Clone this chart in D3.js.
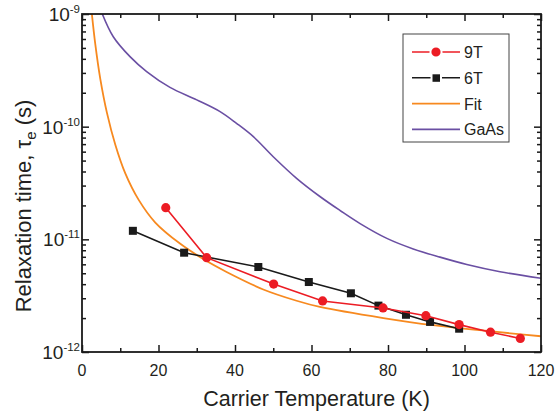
<!DOCTYPE html>
<html>
<head>
<meta charset="utf-8">
<script src="https://cdn.jsdelivr.net/npm/d3@7"></script>
<style>
  body { margin: 0; background: #fff; }
  #chart { width: 559px; height: 416px; }
</style>
</head>
<body>
<div id="chart"></div>
<script>
// RELAXATION TIME VS CARRIER TEMPERATURE

var temps9T = [21.9, 32.6, 50.1, 62.9, 78.7, 89.9, 98.6, 106.8, 114.6];
var tau9T = [1.91e-11, 6.87e-12, 4.01e-12, 2.84e-12, 2.46e-12, 2.10e-12, 1.75e-12, 1.50e-12, 1.32e-12];

var temps6T = [13.3, 26.7, 46.1, 59.3, 70.3, 77.5, 84.7, 91.0, 98.6];
var tau6T = [1.19e-11, 7.61e-12, 5.68e-12, 4.18e-12, 3.32e-12, 2.58e-12, 2.14e-12, 1.85e-12, 1.61e-12];

var fitT = [2.43, 3.48, 4.78, 6.54, 8.71, 11.32, 14.82, 19.16, 25.7, 31.7, 37.8, 47.4, 56.1, 62.2, 78.8, 91.8, 120];
var fitTau = [1.12e-9, 5.37e-10, 2.66e-10, 1.32e-10, 6.92e-11, 3.85e-11, 2.24e-11, 1.41e-11, 9.12e-12, 6.68e-12, 5.13e-12, 3.59e-12, 2.85e-12, 2.51e-12, 2.00e-12, 1.73e-12, 1.38e-12];

var gaasT = [5.31, 8.18, 12.55, 16.9, 23.0, 30.0, 36.1, 40.4, 44.8, 50.0, 56.1, 62.2, 67.5, 72.7, 79.7, 86.6, 93.6, 100.6, 109.3, 120];
var gaasTau = [1e-9, 6.28e-10, 4.18e-10, 3.08e-10, 2.23e-10, 1.73e-10, 1.36e-10, 1.07e-10, 8.15e-11, 5.41e-11, 3.48e-11, 2.40e-11, 1.80e-11, 1.38e-11, 1.02e-11, 8.22e-12, 6.95e-12, 5.98e-12, 5.16e-12, 4.51e-12];

var xTicks = [0, 20, 40, 60, 80, 100, 120];
var yTicks = [1e-12, 1e-11, 1e-10, 1e-9];
var yExponents = ["-12", "-11", "-10", "-9"];

var legendKeys = ["9T", "6T", "Fit", "GaAs"];

var red = "#ec1c24", black = "#1a1a1a", orange = "#f7891f", purple = "#6a4fa3";

function chart() {
    var margin = { top: 14, right: 18, bottom: 64, left: 82 },
        width = 559 - margin.left - margin.right,
        height = 416 - margin.top - margin.bottom;

    var svg = d3.select("#chart").append("svg")
        .attr("width", 559)
        .attr("height", 416)
        .style("font-family", "Liberation Sans, Arial, sans-serif")
        .append("g")
        .attr("transform", "translate(" + margin.left + "," + margin.top + ")");

    var x = d3.scaleLinear().domain([0, 120]).range([0, width]);
    var y = d3.scaleLog().domain([1e-12, 1e-9]).range([height, 0]);

    svg.append("clipPath").attr("id", "plot-clip")
        .append("rect").attr("width", width).attr("height", height);

    // minor ticks for the log axis
    var yMinor = [];
    yTicks.slice(0, 3).forEach(function(d) {
        for (var k = 2; k <= 9; k++) yMinor.push(d * k);
    });
    var xMinor = d3.range(10, 120, 20);

    // axes, ticks pointing inward on all four sides
    var axisStyle = function(g) {
        g.select(".domain").remove();
        g.selectAll("line").attr("stroke", black).attr("stroke-width", 1.5);
    };

    svg.append("g").attr("transform", "translate(0," + height + ")")
        .call(d3.axisBottom(x).tickValues(xTicks).tickSize(-7).tickFormat(""))
        .call(axisStyle);
    svg.append("g").attr("transform", "translate(0," + height + ")")
        .call(d3.axisBottom(x).tickValues(xMinor).tickSize(-4).tickFormat(""))
        .call(axisStyle);
    svg.append("g")
        .call(d3.axisTop(x).tickValues(xTicks).tickSize(-7).tickFormat(""))
        .call(axisStyle);
    svg.append("g")
        .call(d3.axisTop(x).tickValues(xMinor).tickSize(-4).tickFormat(""))
        .call(axisStyle);

    svg.append("g")
        .call(d3.axisLeft(y).tickValues(yTicks).tickSize(-7).tickFormat(""))
        .call(axisStyle);
    svg.append("g")
        .call(d3.axisLeft(y).tickValues(yMinor).tickSize(-4).tickFormat(""))
        .call(axisStyle);
    svg.append("g").attr("transform", "translate(" + width + ",0)")
        .call(d3.axisRight(y).tickValues(yTicks).tickSize(-7).tickFormat(""))
        .call(axisStyle);
    svg.append("g").attr("transform", "translate(" + width + ",0)")
        .call(d3.axisRight(y).tickValues(yMinor).tickSize(-4).tickFormat(""))
        .call(axisStyle);

    // tick labels
    svg.append("g").selectAll("text")
        .data(xTicks)
        .enter().append("text")
        .attr("x", function(d) { return x(d); })
        .attr("y", height + 24)
        .attr("text-anchor", "middle")
        .style("font-size", "16px")
        .style("fill", "#231f20")
        .text(function(d) { return d; });

    var yl = svg.append("g").selectAll("text")
        .data(yTicks)
        .enter().append("text")
        .attr("x", -2)
        .attr("y", function(d) { return y(d) + 7; })
        .attr("text-anchor", "end")
        .style("font-size", "19px")
        .style("fill", "#231f20");
    yl.append("tspan").text("10");
    yl.append("tspan")
        .attr("dy", -8)
        .style("font-size", "11.5px")
        .text(function(d, i) { return yExponents[i]; });

    // axis titles
    svg.append("text")
        .attr("x", width / 2 + 5)
        .attr("y", height + 54)
        .attr("text-anchor", "middle")
        .style("font-size", "21.5px")
        .style("fill", "#231f20")
        .text("Carrier Temperature (K)");

    var yt = svg.append("text")
        .attr("transform", "translate(" + (-51) + "," + (206 - margin.top) + ") rotate(-90)")
        .attr("text-anchor", "middle")
        .style("font-size", "22px")
        .style("fill", "#231f20");
    yt.append("tspan").text("Relaxation time, \u03c4");
    yt.append("tspan").attr("dy", 5).style("font-size", "15px").text("e");
    yt.append("tspan").attr("dy", -5).text(" (s)");

    // curves
    var line = d3.line()
        .x(function(d) { return x(d[0]); })
        .y(function(d) { return y(d[1]); });
    var smooth = d3.line()
        .curve(d3.curveCatmullRom.alpha(0.5))
        .x(function(d) { return x(d[0]); })
        .y(function(d) { return y(d[1]); });

    var plot = svg.append("g").attr("clip-path", "url(#plot-clip)");

    plot.append("path")
        .datum(d3.zip(gaasT, gaasTau))
        .attr("fill", "none").attr("stroke", purple).attr("stroke-width", 1.6)
        .attr("d", smooth);
    plot.append("path")
        .datum(d3.zip(fitT, fitTau))
        .attr("fill", "none").attr("stroke", orange).attr("stroke-width", 1.8)
        .attr("d", smooth);

    plot.append("path")
        .datum(d3.zip(temps6T, tau6T))
        .attr("fill", "none").attr("stroke", black).attr("stroke-width", 1.6)
        .attr("d", line);
    plot.selectAll("rect.sq")
        .data(d3.zip(temps6T, tau6T))
        .enter().append("rect")
        .attr("class", "sq")
        .attr("x", function(d) { return x(d[0]) - 4; })
        .attr("y", function(d) { return y(d[1]) - 4; })
        .attr("width", 8).attr("height", 8)
        .attr("fill", black);

    plot.append("path")
        .datum(d3.zip(temps9T, tau9T))
        .attr("fill", "none").attr("stroke", red).attr("stroke-width", 1.6)
        .attr("d", line);
    plot.selectAll("circle.dot")
        .data(d3.zip(temps9T, tau9T))
        .enter().append("circle")
        .attr("class", "dot")
        .attr("cx", function(d) { return x(d[0]); })
        .attr("cy", function(d) { return y(d[1]); })
        .attr("r", 4.6)
        .attr("fill", red);

    // frame
    svg.append("rect")
        .attr("width", width).attr("height", height)
        .attr("fill", "none").attr("stroke", black).attr("stroke-width", 1.8);

    // legend
    var lg = svg.append("g").attr("transform", "translate(" + (403 - margin.left) + "," + (34 - margin.top) + ")");
    lg.append("rect")
        .attr("width", 106).attr("height", 108)
        .attr("fill", "#fff").attr("stroke", "#444").attr("stroke-width", 1);
    var colors = [red, black, orange, purple];
    var rows = lg.selectAll("g.row")
        .data(legendKeys)
        .enter().append("g")
        .attr("class", "row")
        .attr("transform", function(d, i) { return "translate(0," + (18 + i * 25.8) + ")"; });
    rows.append("line")
        .attr("x1", 9).attr("x2", 57)
        .attr("stroke", function(d, i) { return colors[i]; })
        .attr("stroke-width", 1.6);
    rows.filter(function(d) { return d == "9T"; }).append("circle")
        .attr("cx", 33).attr("r", 5.6).attr("fill", red)
        .attr("stroke", "#fff").attr("stroke-width", 2);
    rows.filter(function(d) { return d == "6T"; }).append("rect")
        .attr("x", 28.5).attr("y", -4.5).attr("width", 9.5).attr("height", 9.5)
        .attr("fill", black).attr("stroke", "#fff").attr("stroke-width", 2);
    rows.append("text")
        .attr("x", 61).attr("y", 6)
        .style("font-size", "16px")
        .style("fill", "#231f20")
        .text(function(d) { return d; });
}
chart();
</script>
</body>
</html>
